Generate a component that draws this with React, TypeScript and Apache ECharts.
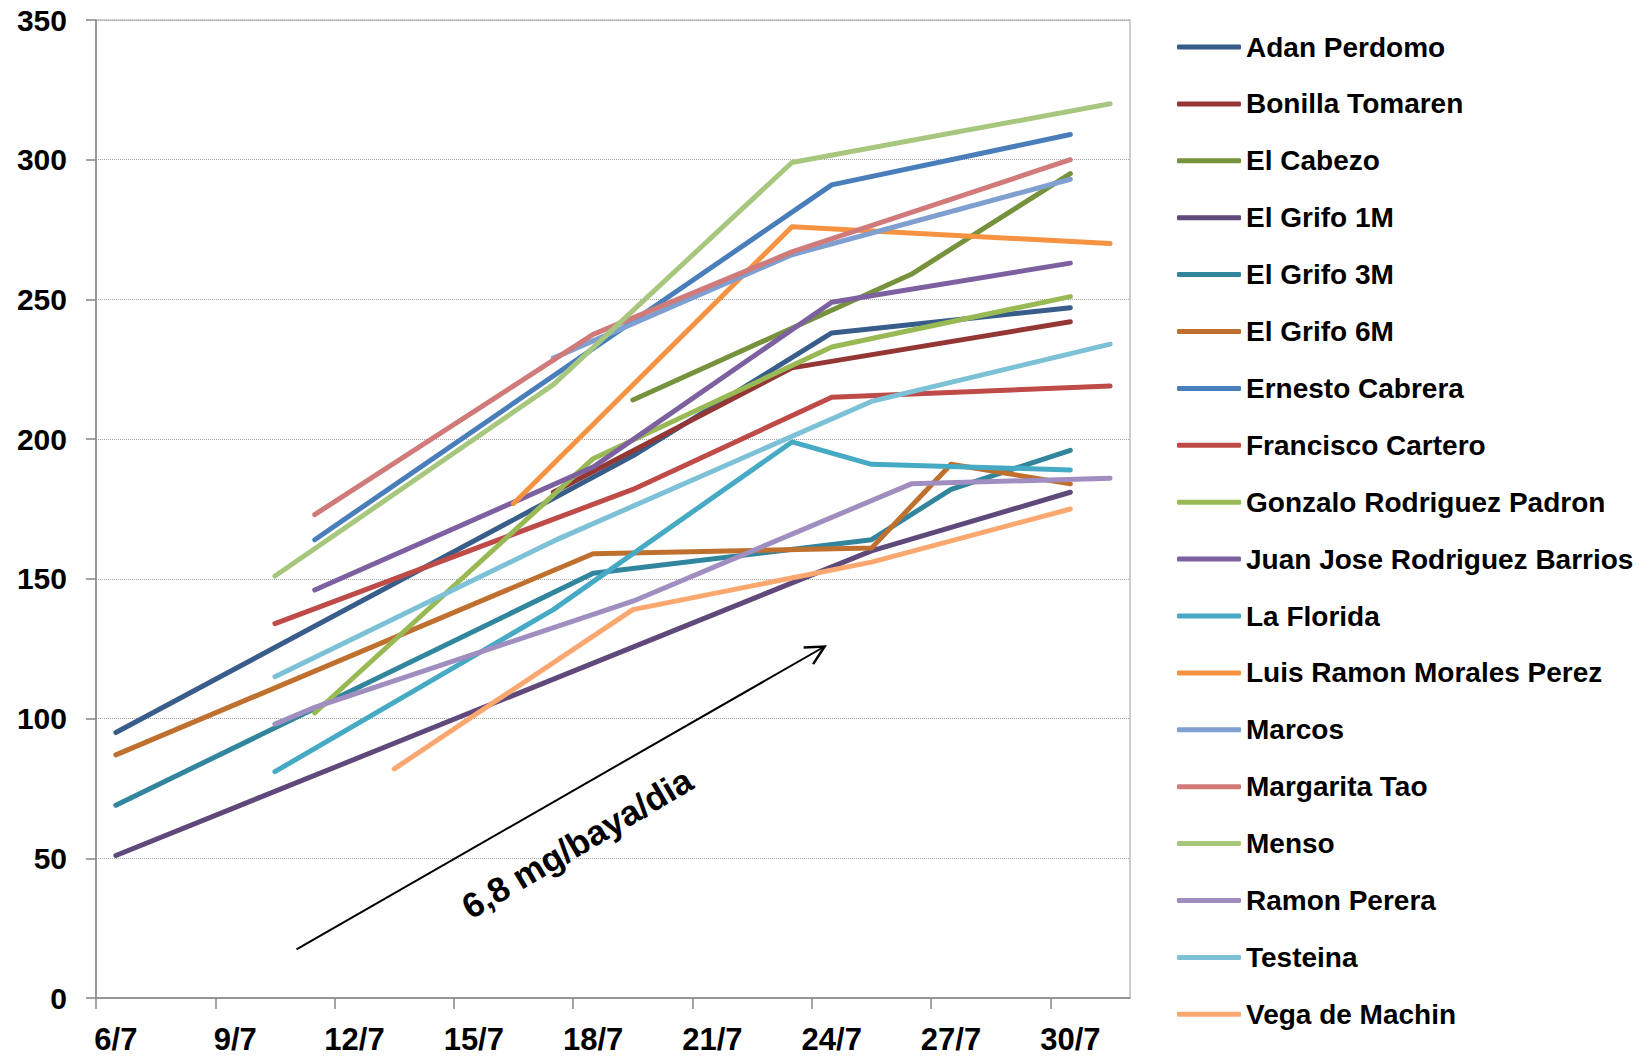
import React, { useEffect, useRef } from "react";
import * as echarts from "echarts";

const FONT = "'Liberation Sans', Arial, Helvetica, sans-serif";

const days = [
  "6/7", "7/7", "8/7", "9/7", "10/7", "11/7", "12/7", "13/7", "14/7",
  "15/7", "16/7", "17/7", "18/7", "19/7", "20/7", "21/7", "22/7", "23/7",
  "24/7", "25/7", "26/7", "27/7", "28/7", "29/7", "30/7", "31/7",
];

const yTicks = { min: 0, max: 350, interval: 50 };
const xTickEvery = 3;

const adanPerdomo = [["6/7", 95], ["19/7", 194], ["24/7", 238], ["30/7", 247]];
const bonillaTomaren = [["17/7", 181], ["23/7", 225.5], ["30/7", 242]];
const elCabezo = [["19/7", 214], ["26/7", 259], ["30/7", 295]];
const elGrifo1M = [["6/7", 51], ["25/7", 160], ["30/7", 181]];
const elGrifo3M = [["6/7", 69], ["18/7", 152], ["25/7", 164], ["27/7", 182], ["30/7", 196]];
const elGrifo6M = [["6/7", 87], ["18/7", 159], ["25/7", 161], ["27/7", 191], ["30/7", 184]];
const ernestoCabrera = [["11/7", 164], ["24/7", 291], ["30/7", 309]];
const franciscoCartero = [["10/7", 134], ["19/7", 182], ["24/7", 215], ["31/7", 219]];
const gonzaloRodriguezPadron = [["11/7", 102], ["18/7", 193], ["24/7", 233], ["30/7", 251]];
const juanJoseRodriguezBarrios = [["11/7", 146], ["18/7", 190], ["24/7", 249], ["30/7", 263]];
const laFlorida = [["10/7", 81], ["17/7", 139], ["23/7", 199], ["25/7", 191], ["30/7", 189]];
const luisRamonMoralesPerez = [["16/7", 177], ["23/7", 276], ["31/7", 270]];
const marcos = [["17/7", 229], ["23/7", 266], ["30/7", 293]];
const margaritaTao = [["11/7", 173], ["18/7", 237.5], ["23/7", 267], ["30/7", 300]];
const menso = [["10/7", 151], ["17/7", 219.5], ["23/7", 299], ["31/7", 320]];
const ramonPerera = [["10/7", 98], ["11/7", 104], ["19/7", 142], ["26/7", 184], ["31/7", 186]];
const testeina = [["10/7", 115], ["17/7", 163.5], ["25/7", 213.5], ["31/7", 234]];
const vegaDeMachin = [["13/7", 82], ["19/7", 139], ["25/7", 156], ["30/7", 175]];

const seriesNames = [
  "Adan Perdomo", "Bonilla Tomaren", "El Cabezo", "El Grifo 1M", "El Grifo 3M",
  "El Grifo 6M", "Ernesto Cabrera", "Francisco Cartero", "Gonzalo Rodriguez Padron",
  "Juan Jose Rodriguez Barrios", "La Florida", "Luis Ramon Morales Perez", "Marcos",
  "Margarita Tao", "Menso", "Ramon Perera", "Testeina", "Vega de Machin",
];

const seriesData = [
  adanPerdomo, bonillaTomaren, elCabezo, elGrifo1M, elGrifo3M, elGrifo6M,
  ernestoCabrera, franciscoCartero, gonzaloRodriguezPadron, juanJoseRodriguezBarrios,
  laFlorida, luisRamonMoralesPerez, marcos, margaritaTao, menso, ramonPerera,
  testeina, vegaDeMachin,
];

const seriesColors = [
  "#385D8A", "#943634", "#76923C", "#5F497A", "#31859C", "#C0702E",
  "#4A7EBB", "#BE4B48", "#98B954", "#7D60A0", "#46AAC5", "#F59343",
  "#7F9FD0", "#D07B7A", "#A8C77E", "#A08EC0", "#7CC1D6", "#FBA870",
];

const annotationText = "6,8 mg/baya/dia";

export default function App() {
  const ref = useRef<HTMLDivElement>(null);

  useEffect(() => {
    if (!ref.current) return;
    const chart = echarts.init(ref.current, null, { renderer: "svg" });

    const W = 1643;
    const gridLeft = 96;
    const gridRight = 513;
    const plotW = W - gridLeft - gridRight;
    const bandW = plotW / days.length;
    const lastTickIdx = Math.floor((days.length - 1) / xTickEvery) * xTickEvery;

    const series = seriesNames.map((name, i) => ({
      name,
      type: "line",
      xAxisIndex: 0,
      yAxisIndex: 0,
      data: seriesData[i],
      symbol: "none",
      showSymbol: false,
      color: seriesColors[i],
      lineStyle: { width: 5, color: seriesColors[i], cap: "round", join: "round" },
      emphasis: { disabled: true },
    }));

    const tip = [824.6, 646.5];
    const option: any = {
      animation: false,
      backgroundColor: "#ffffff",
      grid: [
        {
          left: gridLeft,
          right: gridRight,
          top: 20,
          bottom: 60,
          show: true,
          borderColor: "#BFBFBF",
          borderWidth: 1.5,
          containLabel: false,
          outerBoundsMode: "none",
        },
        {
          left: gridLeft,
          top: 20,
          bottom: 60,
          width: bandW * lastTickIdx,
          show: false,
          containLabel: false,
          outerBoundsMode: "none",
        },
      ],
      legend: {
        orient: "vertical",
        left: 1177,
        top: 32,
        padding: 0,
        itemWidth: 64,
        itemHeight: 5,
        itemGap: 26.9,
        icon: "roundRect",
        data: seriesNames,
        textStyle: {
          fontFamily: FONT,
          fontWeight: "bold",
          fontSize: 28,
          lineHeight: 30,
          color: "#000",
        },
      },
      xAxis: [
        {
          type: "category",
          gridIndex: 0,
          data: days,
          boundaryGap: true,
          axisLine: { show: true, lineStyle: { color: "#868686", width: 1.5 } },
          axisTick: { show: false },
          axisLabel: {
            interval: xTickEvery - 1,
            margin: 26,
            fontFamily: FONT,
            fontWeight: "bold",
            fontSize: 31,
            lineHeight: 30,
            color: "#000",
          },
          splitLine: { show: false },
        },
        {
          type: "value",
          gridIndex: 1,
          min: 0,
          max: lastTickIdx,
          interval: xTickEvery,
          axisLine: { show: false },
          axisTick: { show: true, length: 11, lineStyle: { color: "#868686", width: 1.5 } },
          axisLabel: { show: false },
          splitLine: { show: false },
        },
      ],
      yAxis: [
        {
          type: "value",
          gridIndex: 0,
          min: yTicks.min,
          max: yTicks.max,
          interval: yTicks.interval,
          axisLine: { show: true, lineStyle: { color: "#868686", width: 1.5 } },
          axisTick: { show: true, length: 10, lineStyle: { color: "#868686", width: 1.5 } },
          axisLabel: {
            margin: 29,
            fontFamily: FONT,
            fontWeight: "bold",
            fontSize: 30,
            color: "#000",
          },
          splitLine: { show: true, lineStyle: { color: "#A6A6A6", type: "dotted", width: 1 } },
        },
        {
          type: "value",
          gridIndex: 1,
          min: yTicks.min,
          max: yTicks.max,
          interval: yTicks.interval,
          show: false,
        },
      ],
      series,
      graphic: [
        {
          type: "line",
          shape: { x1: 296.5, y1: 949.3, x2: tip[0], y2: tip[1] },
          style: { stroke: "#000", lineWidth: 2 },
          z: 100,
        },
        {
          type: "polyline",
          shape: { points: [[803.6, 647.5], tip, [813.1, 664.1]] },
          style: { stroke: "#000", lineWidth: 2.5, fill: null },
          z: 100,
        },
        {
          type: "text",
          x: 577,
          y: 843,
          rotation: (30.5 * Math.PI) / 180,
          style: {
            text: annotationText,
            fontFamily: FONT,
            fontWeight: "bold",
            fontSize: 35,
            fill: "#000",
            align: "center",
            verticalAlign: "middle",
          },
          z: 100,
        },
      ],
    };

    chart.setOption(option);
    return () => chart.dispose();
  }, []);

  return (
    <div
      ref={ref}
      style={{ position: "absolute", left: 0, top: 0, width: 1643, height: 1058, background: "#fff" }}
    />
  );
}
